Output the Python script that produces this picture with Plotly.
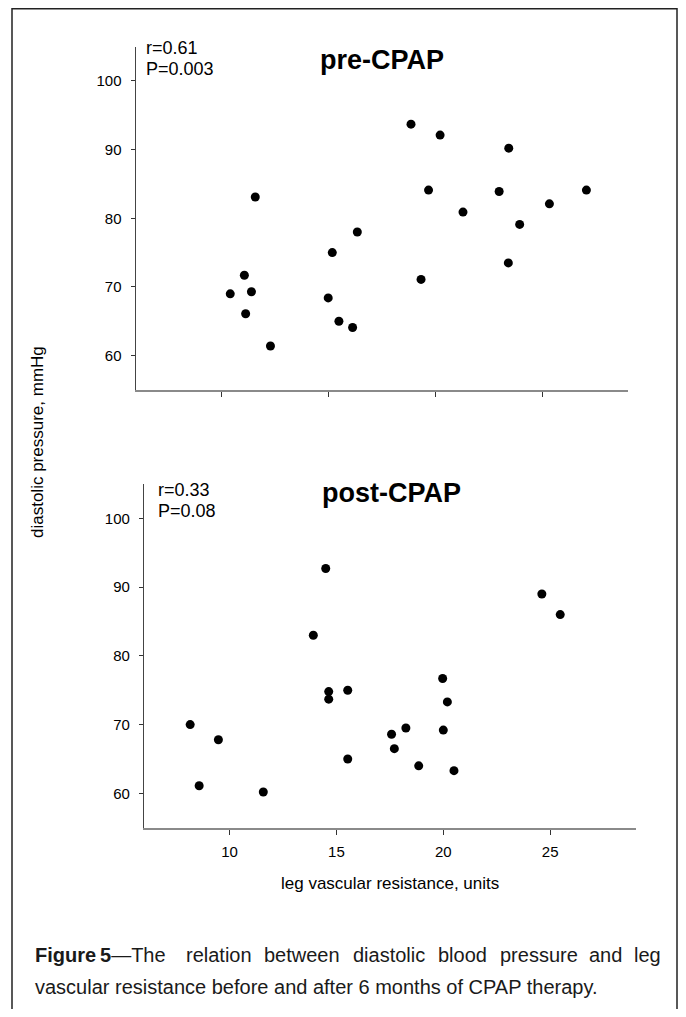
import plotly.graph_objects as go

# ---- data ----
pre_x = [11.59, 16.36, 18.87, 20.23, 23.44, 19.69, 22.99, 27.07, 21.30, 25.34, 23.95,
         23.42, 19.34, 16.14, 10.42, 11.08, 11.41, 11.14, 12.30, 15.19, 15.00, 15.50]
pre_y = [83.1, 78.0, 93.7, 92.1, 90.2, 84.1, 83.9, 84.1, 80.9, 82.1, 79.1,
         73.5, 71.1, 64.1, 69.0, 71.7, 69.3, 66.1, 61.4, 75.0, 68.4, 65.0]

post_x = [14.50, 13.92, 24.61, 25.47, 8.16, 9.48, 8.58, 11.58, 14.64, 14.64,
          15.53, 15.53, 17.58, 17.71, 18.25, 18.85, 19.97, 20.19, 20.00, 20.50]
post_y = [92.7, 83.0, 89.0, 86.0, 70.0, 67.8, 61.1, 60.2, 74.8, 73.7,
          75.0, 65.0, 68.6, 66.5, 69.5, 64.0, 76.7, 73.3, 69.2, 63.3]

x_ticks = [10, 15, 20, 25]
y_ticks = [60, 70, 80, 90, 100]
x_range = [6, 29]
y_range = [55, 105]

panel_titles = ["pre-CPAP", "post-CPAP"]
stats_r = ["r=0.61", "r=0.33"]
stats_p = ["P=0.003", "P=0.08"]
x_title = "leg vascular resistance, units"
y_title = "diastolic pressure, mmHg"
caption_line1 = ["<b>Figure</b>", "<b>5</b>—The", "relation", "between", "diastolic",
                 "blood", "pressure", "and", "leg"]
caption_line2 = "vascular resistance before and after 6 months of CPAP therapy."

# ---- geometry helpers (page has an 8px body margin) ----
PAGE_W, PAGE_H = 686, 1017
OFF = 8
W, H = PAGE_W - 2 * OFF, PAGE_H - 2 * OFF
def fx(px):
    return (px - OFF) / W
def fy(py):
    return 1 - (py - OFF) / H

FONT = "Liberation Sans, Arial, Helvetica, sans-serif"

fig = go.Figure()
fig.add_trace(go.Scatter(x=pre_x, y=pre_y, mode="markers",
                         marker=dict(color="black", size=9, line=dict(width=0)),
                         xaxis="x", yaxis="y", hoverinfo="skip"))
fig.add_trace(go.Scatter(x=post_x, y=post_y, mode="markers",
                         marker=dict(color="black", size=9, line=dict(width=0)),
                         xaxis="x2", yaxis="y2", hoverinfo="skip"))

def xaxis(domain, anchor, labels):
    return dict(domain=domain, anchor=anchor, range=x_range, showline=True,
                linecolor="#8a8a8a", linewidth=2, tickvals=x_ticks, ticks="outside",
                ticklen=5, tickwidth=1, tickcolor="#333", showticklabels=labels,
                tickfont=dict(family=FONT, size=15, color="black"),
                ticklabelstandoff=4,
                showgrid=False, zeroline=False, fixedrange=True)

def yaxis(domain, anchor):
    return dict(domain=domain, anchor=anchor, range=y_range, showline=True,
                linecolor="#444", linewidth=1.3, tickvals=y_ticks, ticks="outside",
                ticklen=4, tickwidth=1, tickcolor="#333",
                tickfont=dict(family=FONT, size=15, color="black"),
                ticklabelstandoff=6,
                showgrid=False, zeroline=False, fixedrange=True)

annotations = []
def ann(text, x, y, size, xanchor="center", yanchor="middle", angle=0, color="black"):
    annotations.append(dict(text=text, x=fx(x), y=fy(y), xref="paper", yref="paper",
                            xanchor=xanchor, yanchor=yanchor, showarrow=False,
                            textangle=angle, font=dict(family=FONT, size=size, color=color)))

# panel titles
ann("<b>%s</b>" % panel_titles[0], 382, 60, 27)
ann("<b>%s</b>" % panel_titles[1], 391.5, 493.5, 27)
# stats
ann(stats_r[0], 144, 47.5, 18, xanchor="left")
ann(stats_p[0], 144, 68.5, 18, xanchor="left")
ann(stats_r[1], 156, 489.5, 18, xanchor="left")
ann(stats_p[1], 156, 510.5, 18, xanchor="left")
# axis titles
ann(x_title, 390, 883, 17)
ann(y_title, 37, 442, 17, angle=-90)
# caption, first line justified word by word
CAP = 20
CAPC = "#1a1a1a"
word_centers = [62, 133, 219.2, 301.6, 389.3, 462.6, 538.6, 605, 649.3]
for i, (w, cx) in enumerate(zip(caption_line1, word_centers)):
    if i == 0:
        ann(w, 33, 955, CAP, xanchor="left", color=CAPC)
    elif i == len(caption_line1) - 1:
        ann(w, 663, 955, CAP, xanchor="right", color=CAPC)
    else:
        ann(w, cx, 955, CAP, color=CAPC)
ann(caption_line2, 33, 987, CAP, xanchor="left", color=CAPC)

fig.update_layout(
    width=W, height=H, margin=dict(l=0, r=0, t=0, b=0),
    paper_bgcolor="white", plot_bgcolor="white", showlegend=False,
    xaxis=xaxis([fx(135.7), fx(627.7)], "y", False),
    yaxis=yaxis([fy(390), fy(46.5)], "x"),
    xaxis2=xaxis([fx(144), fx(635.7)], "y2", True),
    yaxis2=yaxis([fy(827.7), fy(484)], "x2"),
    annotations=annotations,
    shapes=[dict(type="rect", xref="paper", yref="paper",
                 x0=fx(12), x1=fx(677), y0=-0.05, y1=fy(8.8),
                 line=dict(color="#222", width=1.5), fillcolor="rgba(0,0,0,0)")],
)

fig.write_html("out.html", config={"displayModeBar": False})
